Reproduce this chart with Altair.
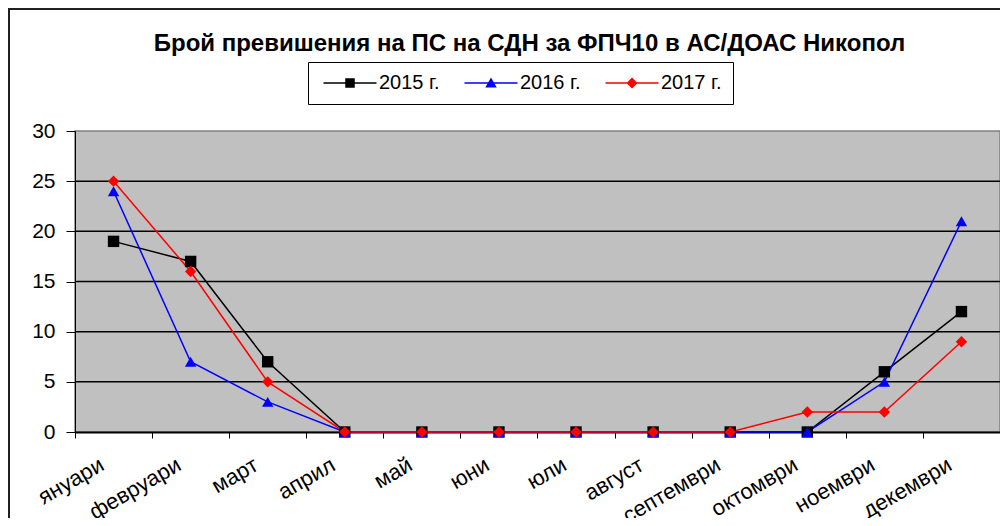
import altair as alt
import pandas as pd

months = ["януари", "февруари", "март", "април", "май", "юни", "юли",
          "август", "септември", "октомври", "ноември", "декември"]
series = ["2015 г.", "2016 г.", "2017 г."]
v2015 = [19, 17, 7, 0, 0, 0, 0, 0, 0, 0, 6, 12]
v2016 = [24, 7, 3, 0, 0, 0, 0, 0, 0, 0, 5, 21]
v2017 = [25, 16, 5, 0, 0, 0, 0, 0, 0, 2, 2, 9]
grid_values = [5, 10, 15, 20, 25]
y_ticks = [0, 5, 10, 15, 20, 25, 30]

colors = ["#000000", "#0000FF", "#FF0000"]
shapes = ["square", "triangle-up", "diamond"]
# legend symbols: a horizontal line (thin filled bar) with the marker on it
bar = "M-5.3,-0.14H5.3V0.14H-5.3Z"
legend_shapes = [
    bar + "M-0.95,-0.95H0.95V0.95H-0.95Z",
    bar + "M0,-1.1L1.15,0.9H-1.15Z",
    bar + "M0,-1.1L1.1,0L0,1.1L-1.1,0Z",
]

rows = []
for k, (s, vals) in enumerate(zip(series, [v2015, v2016, v2017])):
    for m, v in zip(months, vals):
        rows.append({"month": m, "series": s, "value": v, "k": k})
df = pd.DataFrame(rows)
grid_df = pd.DataFrame({"value": grid_values})
frame_df = pd.DataFrame({"frame": [1]})

FONT = "Liberation Sans"

x_enc = alt.X(
    "month:N", sort=months,
    scale=alt.Scale(type="band", paddingInner=0, paddingOuter=0),
    axis=alt.Axis(title=None, labelAngle=-30, labelAlign="right", labelBaseline="top",
                  tickBand="extent", labelFontSize=22, labelFont=FONT, labelColor="#000000",
                  labelPadding=16, labelOffset=-17, tickSize=6, tickColor="#000000",
                  domainColor="#000000", domainWidth=2, ticks=True, grid=False,
                  labelOverlap=False),
)
y_enc = alt.Y(
    "value:Q",
    scale=alt.Scale(domain=[0, 30], nice=False),
    axis=alt.Axis(title=None, values=y_ticks, labelFontSize=21, labelFont=FONT,
                  labelColor="#000000", labelPadding=11, tickSize=9, tickColor="#000000",
                  domainColor="#000000", domainWidth=1, grid=False),
)

color_scale = alt.Scale(domain=series, range=colors)

# outer chart frame (top and left edges that fall inside the page)
frame_top = alt.Chart(frame_df).mark_rule(color="#202020", strokeWidth=2).encode(
    x=alt.value(-67), x2=alt.value(925), y=alt.value(-122), y2=alt.value(-122)
)
frame_left = alt.Chart(frame_df).mark_rule(color="#202020", strokeWidth=2).encode(
    x=alt.value(-66), x2=alt.value(-66), y=alt.value(-123), y2=alt.value(387)
)

grid = alt.Chart(grid_df).mark_rule(color="#000000", strokeWidth=1.5).encode(y=y_enc)

lines = alt.Chart(df).mark_line(strokeWidth=1.5).encode(
    x=x_enc, y=y_enc,
    color=alt.Color("series:N", scale=color_scale, legend=None),
    detail="series:N",
    order="k:Q",
)

points = alt.Chart(df).mark_point(filled=True, size=130, opacity=1).encode(
    x=x_enc, y=y_enc,
    color=alt.Color("series:N", scale=color_scale, legend=None),
    shape=alt.Shape("series:N", scale=alt.Scale(domain=series, range=shapes), legend=None),
    order="k:Q",
)

legend_layer = alt.Chart(df).transform_filter("datum.value < 0").mark_point(
    filled=True, size=100, opacity=1
).encode(
    x=x_enc, y=y_enc,
    color=alt.Color("series:N", scale=alt.Scale(domain=series, range=colors),
                    legend=alt.Legend(title=None)),
    shape=alt.Shape("series:N", scale=alt.Scale(domain=series, range=legend_shapes),
                    legend=alt.Legend(title=None)),
)

chart = alt.layer(grid, lines, points, legend_layer, frame_top, frame_left).resolve_scale(
    color="independent", shape="independent"
).properties(
    width=925, height=301,
    padding={"left": 67, "top": 123, "right": 0, "bottom": 86},
    autosize=alt.AutoSizeParams(type="none"),
    background="#FFFFFF",
    title=alt.TitleParams(
        "Брой превишения на ПС на СДН за ФПЧ10 в АС/ДОАС Никопол",
        font=FONT, fontSize=24, fontWeight="bold", color="#000000",
        anchor="middle", frame="group", offset=-49, dx=-8,
    ),
).configure_view(
    fill="#C0C0C0", stroke="#808080", strokeWidth=1.5
).configure_legend(
    orient="none", legendX=233, legendY=-69, direction="horizontal",
    strokeColor="#000000", fillColor="#FFFFFF", padding=11,
    labelFont=FONT, labelFontSize=20, labelColor="#000000",
    labelOffset=19, symbolOffset=21, columnPadding=20, symbolSize=100, symbolStrokeWidth=0,
)

chart.save("out.html", embed_options={"renderer": "svg", "actions": False})
